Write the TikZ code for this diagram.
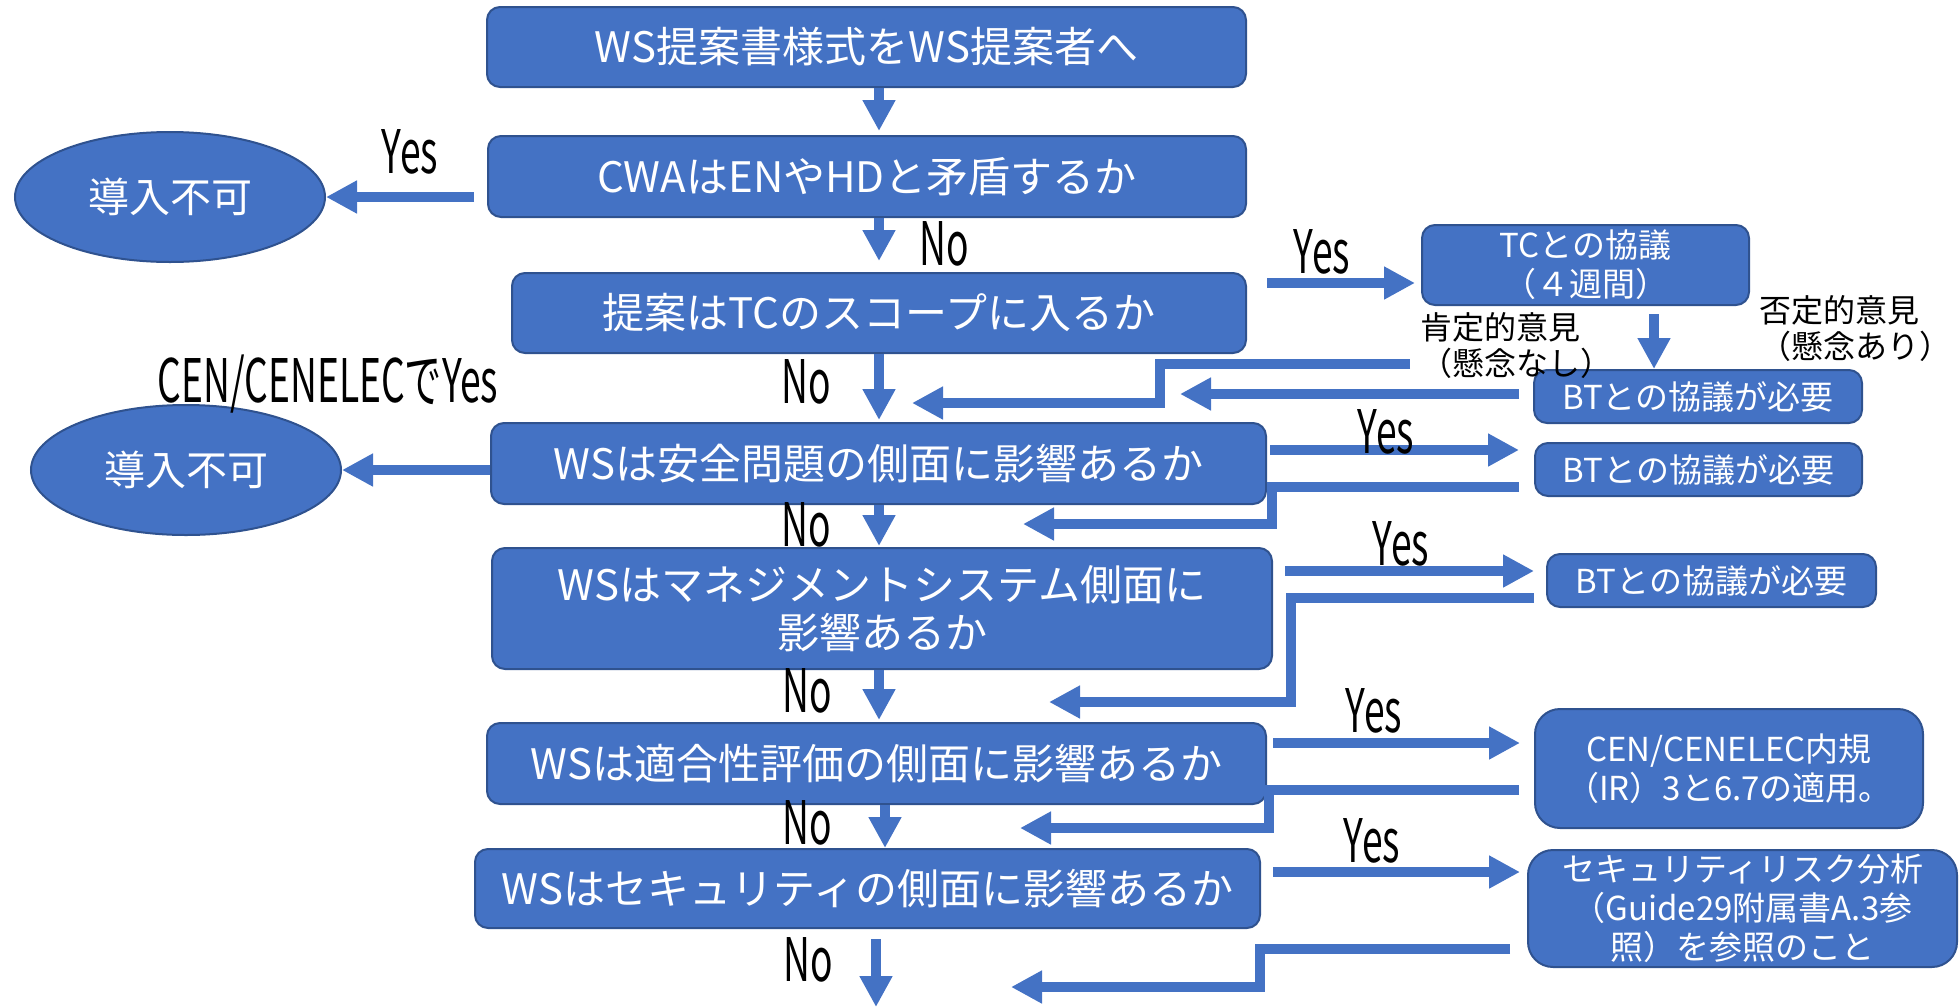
\documentclass[tikz,border=0pt]{standalone}
\usepackage{fontspec}
\setmainfont{Noto Sans CJK JP}
\newfontfamily\labfont{Noto Sans CJK JP}[FakeStretch=0.62]
\usetikzlibrary{arrows.meta,shapes.geometric,calc}
\definecolor{fillb}{HTML}{4472C4}
\definecolor{edgeb}{HTML}{2F528F}
\begin{document}
\begin{tikzpicture}[x=1pt,y=-1pt,
  mbox/.style={draw=edgeb, line width=2pt, fill=fillb, rounded corners=13pt, text=white, inner sep=0pt, align=center, font=\fontsize{42}{48}\selectfont},
  sbox/.style={mbox, font=\fontsize{33}{39}\selectfont},
  cbox/.style={sbox, rounded corners=25pt},
  oval/.style={ellipse, draw=edgeb, line width=2pt, fill=fillb, text=white, inner sep=0pt, font=\fontsize{41}{48}\selectfont},
  flow/.style={draw=fillb, line width=10pt, -{Triangle[length=31pt,width=31pt]}},
  yn/.style={font=\labfont\fontsize{60}{60}\selectfont, text=black, inner sep=0pt},
  note/.style={font=\fontsize{32}{36}\selectfont, text=black, inner sep=0pt, align=left},
]
\useasboundingbox (0,0) rectangle (1959,1007);

% main boxes
\node[mbox, minimum width=759pt, minimum height=80pt] (b1) at (866.5,47) {WS提案書様式をWS提案者へ};
\node[mbox, minimum width=758pt, minimum height=81pt] (b2) at (867,176.5) {CWAはENやHDと矛盾するか};
\node[mbox, minimum width=734pt, minimum height=80pt] (b3) at (879,313) {提案はTCのスコープに入るか};
\node[mbox, minimum width=775pt, minimum height=81pt] (b4) at (878.5,463.5) {WSは安全問題の側面に影響あるか};
\node[mbox, minimum width=780pt, minimum height=121pt] (b5) at (882,608.5) {WSはマネジメントシステム側面に\\影響あるか};
\node[mbox, minimum width=779pt, minimum height=81pt] (b6) at (876.5,763.5) {WSは適合性評価の側面に影響あるか};
\node[mbox, minimum width=785pt, minimum height=79pt] (b7) at (867.5,888.5) {WSはセキュリティの側面に影響あるか};

% ellipses
\node[oval, minimum width=310pt, minimum height=130pt] (e1) at (170,197) {導入不可};
\node[oval, minimum width=310pt, minimum height=130pt] (e2) at (186,470) {導入不可};

% side boxes
\node[sbox, minimum width=327pt, minimum height=80pt] (tc) at (1585.5,265) {TCとの協議\\（４週間）};
\node[sbox, minimum width=328pt, minimum height=53pt] (bt1) at (1698,396.5) {BTとの協議が必要};
\node[sbox, minimum width=327pt, minimum height=53pt] (bt2) at (1698.5,469.5) {BTとの協議が必要};
\node[sbox, minimum width=329pt, minimum height=53pt] (bt3) at (1711.5,580.5) {BTとの協議が必要};
\node[cbox, minimum width=388pt, minimum height=119pt] (cen) at (1729,768.5) {CEN/CENELEC内規\\（IR）3と6.7の適用。};
\node[cbox, minimum width=429pt, minimum height=117pt] (sec) at (1742.5,908.5) {セキュリティリスク分析\\（Guide29附属書A.3参\\照）を参照のこと};

% coordinates
\coordinate (sp) at (879,0);
\coordinate (sp6) at (885,0);
\coordinate (endtop) at (876,939);
\coordinate (endc) at (876,1007);
\coordinate (y3) at (0,283);
\coordinate (y4) at (0,450);
\coordinate (y5) at (0,571);
\coordinate (y6) at (0,743);
\coordinate (y7) at (0,872);
\coordinate (tx) at (1654,0);
\coordinate (r1s) at (1410,364);
\coordinate (r1k) at (1160,403);
\coordinate (r1e) at (912,403);
\coordinate (r2) at (0,394);
\coordinate (r2e) at (1180,394);
\coordinate (r3) at (0,487);
\coordinate (r3k) at (1272,524);
\coordinate (r3e) at (1023,524);
\coordinate (r4) at (0,598);
\coordinate (r4k) at (1291,702);
\coordinate (r4e) at (1049,702);
\coordinate (r5) at (0,790);
\coordinate (r5k) at (1269,828);
\coordinate (r5e) at (1020,828);
\coordinate (r6) at (0,949);
\coordinate (r6k) at (1260,987);
\coordinate (r6e) at (1011,987);

% vertical flow
\draw[flow, shorten >=4pt] (b1.south -| sp) -- (b2.north -| sp);
\draw[flow, shorten >=11pt] (b2.south -| sp) -- (b3.north -| sp);
\draw[flow, shorten >=2pt] (b3.south -| sp) -- (b4.north -| sp);
\draw[flow, shorten >=1pt] (b4.south -| sp) -- (b5.north -| sp);
\draw[flow, shorten >=2pt] (b5.south -| sp) -- (b6.north -| sp);
\draw[flow] (b6.south -| sp6) -- (b7.north -| sp6);
\draw[flow] (endtop) -- (endc);

% to ellipses
\draw[flow, shorten <=13pt] (b2.west |- e1.east) -- (e1.east);
\draw[flow] (b4.west |- e2.east) -- (e2.east);

% yes arrows right
\draw[flow, shorten <=20pt, shorten >=6pt] (b3.east |- y3) -- (tc.west |- y3);
\draw[flow, shorten <=3pt, shorten >=15pt] (b4.east |- y4) -- (bt2.west |- y4);
\draw[flow, shorten <=12pt, shorten >=12pt] (b5.east |- y5) -- (bt3.west |- y5);
\draw[flow, shorten <=6pt, shorten >=14pt] (b6.east |- y6) -- (cen.west |- y6);
\draw[flow, shorten <=12pt, shorten >=7pt] (b7.east |- y7) -- (sec.west |- y7);
\draw[flow, shorten <=8pt] (tc.south -| tx) -- (bt1.north -| tx);

% return arrows
\draw[flow] (r1s) -| (r1k) -- (r1e);
\draw[flow, shorten <=14pt] (bt1.west |- r2) -- (r2e);
\draw[flow, shorten <=15pt] (bt2.west |- r3) -| (r3k) -- (r3e);
\draw[flow, shorten <=12pt] (bt3.west |- r4) -| (r4k) -- (r4e);
\draw[flow, shorten <=15pt] (cen.west |- r5) -| (r5k) -- (r5e);
\draw[flow, shorten <=17pt] (sec.west |- r6) -| (r6k) -- (r6e);

% labels
\node[yn] (l1) at (410,152) {Yes};
\node[yn] (l2) at (944,244) {No};
\node[yn] (l3) at (1322,252) {Yes};
\node[yn] (l4) at (806,382) {No};
\node[yn] (l5) at (328,384) {CEN/CENELECでYes};
\node[yn] (l6) at (1386,432) {Yes};
\node[yn] (l7) at (806,525) {No};
\node[yn] (l8) at (1401,544) {Yes};
\node[yn] (l9) at (807,691) {No};
\node[yn] (l10) at (1374,711) {Yes};
\node[yn] (l11) at (807,823) {No};
\node[yn] (l12) at (1372,841) {Yes};
\node[yn] (l13) at (808,960) {No};
\node[note] (n1) at (1516,346) {肯定的意見\\（懸念なし）};
\node[note] (n2) at (1855,329) {否定的意見\\（懸念あり）};
\end{tikzpicture}
\end{document}
